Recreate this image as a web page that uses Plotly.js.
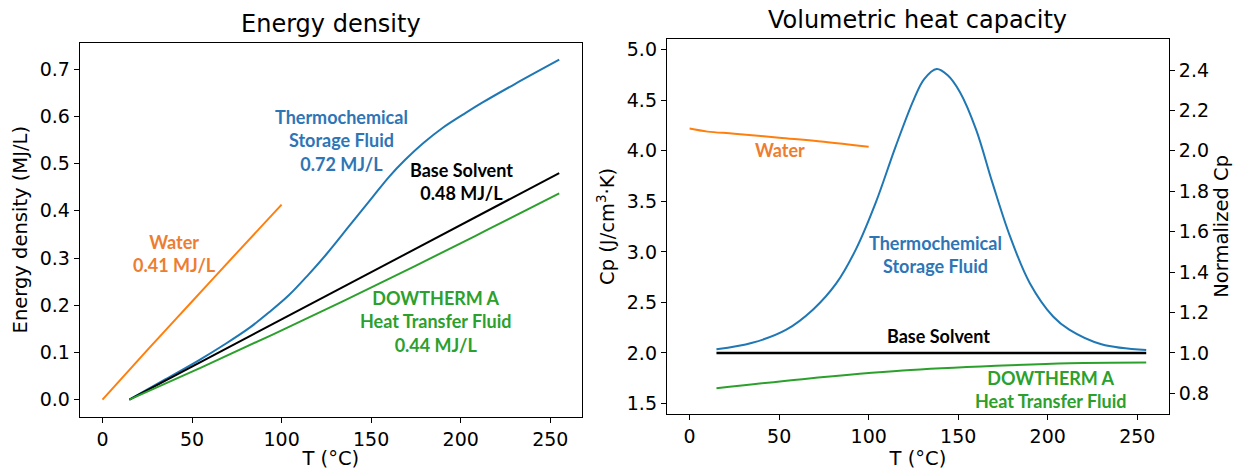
<!DOCTYPE html>
<html>
<head>
<meta charset="utf-8">
<script src="https://cdn.plot.ly/plotly-3.0.1.min.js"></script>
<style>html,body{margin:0;padding:0;background:#fff;}#chart{width:1235px;height:470px;}</style>
</head>
<body>
<div id="chart"></div>
<script>
// ---- Energy density (MJ/L) vs T (°C)
const waterT_E = [0, 25, 50, 75, 100];
const waterE = [0, 0.105, 0.208, 0.311, 0.413];
const tcsT_E = [15, 35, 54, 69, 82, 93, 104, 115, 125, 138, 151, 160, 169, 179, 190, 203, 212, 230, 255];
const tcsE = [0, 0.043, 0.084, 0.119, 0.152, 0.185, 0.221, 0.265, 0.308, 0.369, 0.430, 0.472, 0.508, 0.543, 0.576, 0.608, 0.629, 0.668, 0.72];
const baseT_E = [15, 255];
const baseE = [0, 0.48];
const dowT_E = [15, 55, 95, 135, 175, 215, 255];
const dowE = [0, 0.068, 0.138, 0.210, 0.284, 0.360, 0.437];

// ---- Volumetric heat capacity Cp (J/cm3·K) vs T (°C)
const waterT_C = [0, 10, 25, 50, 75, 100];
const waterCp = [4.22, 4.19, 4.17, 4.13, 4.09, 4.04];
const tcsT_C = [15, 35, 54, 69, 82, 93, 104, 115, 125, 131, 138, 144, 151, 160, 169, 179, 190, 203, 212, 230, 255];
const tcsCp = [2.035, 2.10, 2.23, 2.43, 2.69, 3.03, 3.49, 4.04, 4.50, 4.71, 4.81, 4.75, 4.58, 4.21, 3.69, 3.15, 2.69, 2.36, 2.23, 2.085, 2.028];
const baseT_C = [15, 255];
const baseCp = [2.0, 2.0];
const dowT_C = [15, 63, 119, 175, 212, 255];
const dowCp = [1.65, 1.74, 1.825, 1.875, 1.898, 1.905];

const xTicks = [0, 50, 100, 150, 200, 250];
const C = {blue:'#1f77b4', orange:'#ff7f0e', green:'#2ca02c', black:'#000000'};
const TXT = {blue:'#2e75b6', orange:'#ed7d31', green:'#2ca02c', black:'#000000'};

function line(x, y, color, xa, ya, w) {
  return {x:x, y:y, xaxis:xa, yaxis:ya, type:'scatter', mode:'lines',
    line:{color:color, width:w||2, shape:'spline', smoothing:1}, hoverinfo:'skip', showlegend:false};
}

const traces = [
  line(waterT_E, waterE, C.orange, 'x', 'y'),
  line(tcsT_E, tcsE, C.blue, 'x', 'y'),
  line(baseT_E, baseE, C.black, 'x', 'y'),
  line(dowT_E, dowE, C.green, 'x', 'y'),
  line(waterT_C, waterCp, C.orange, 'x2', 'y2'),
  line(tcsT_C, tcsCp, C.blue, 'x2', 'y2'),
  line(baseT_C, baseCp, C.black, 'x2', 'y2', 2.5),
  line(dowT_C, dowCp, C.green, 'x2', 'y2'),
  // invisible trace so the normalized axis is drawn
  {x:baseT_C, y:baseCp.map(v => v/2), xaxis:'x2', yaxis:'y3', type:'scatter', mode:'lines',
   line:{color:'rgba(0,0,0,0)', width:0}, hoverinfo:'skip', showlegend:false}
];

const tickFont = {family:'DejaVu Sans', size:19, color:'#000'};
const titleFont = {family:'DejaVu Sans', size:19.5, color:'#000'};
const axBase = {showgrid:false, zeroline:false, showline:true, linecolor:'#000', linewidth:1,
  ticks:'outside', ticklen:5, tickwidth:1, tickcolor:'#000', tickfont:tickFont, automargin:false};

const annFont = (c) => ({family:'Lato', size:18, color:c, weight:'bold'});
function ann(text, x, y, xr, yr, c) {
  return {text:'<b>'+text+'</b>', x:x, y:y, xref:xr, yref:yr, showarrow:false,
    font:annFont(c), align:'center', xanchor:'center', yanchor:'middle'};
}

const layout = {
  width:1235, height:470,
  margin:{l:0, r:0, t:0, b:0},
  paper_bgcolor:'#fff', plot_bgcolor:'#fff',
  xaxis: Object.assign({}, axBase, {domain:[0.0645, 0.4713], range:[-12.75, 267.75], tickvals:xTicks,
    mirror:true, anchor:'y', title:{text:'T (°C)', font:titleFont, standoff:2}}),
  yaxis: Object.assign({}, axBase, {domain:[0.1134, 0.9091], range:[-0.036, 0.756], dtick:0.1, tick0:0,
    tickformat:'.1f', mirror:true, anchor:'x', title:{text:'Energy density (MJ/L)', font:titleFont, standoff:6}}),
  xaxis2: Object.assign({}, axBase, {domain:[0.5399, 0.9466], range:[-12.75, 267.75], tickvals:xTicks,
    mirror:true, anchor:'y2', title:{text:'T (°C)', font:titleFont, standoff:2}}),
  yaxis2: Object.assign({}, axBase, {domain:[0.1191, 0.9177], range:[1.395, 5.11], dtick:0.5, tick0:0,
    tickformat:'.1f', anchor:'x2', mirror:true, title:{text:'Cp (J/cm<sup>3</sup>·K)', font:titleFont, standoff:6}}),
  yaxis3: Object.assign({}, axBase, {domain:[0.1191, 0.9177], range:[0.6975, 2.555], dtick:0.2, tick0:0,
    tickformat:'.1f', anchor:'x2', overlaying:'y2', side:'right', title:{text:'Normalized Cp', font:titleFont, standoff:6}}),
  annotations: [
    {text:'Energy density', x:0.268, y:1-24/470, xref:'paper', yref:'paper', showarrow:false,
     font:{family:'DejaVu Sans', size:24, color:'#000'}, xanchor:'center', yanchor:'middle'},
    {text:'Volumetric heat capacity', x:918/1235, y:1-20/470, xref:'paper', yref:'paper', showarrow:false,
     font:{family:'DejaVu Sans', size:24, color:'#000'}, xanchor:'center', yanchor:'middle'},
    ann('Thermochemical<br>Storage Fluid<br>0.72 MJ/L', 133.4, 0.549, 'x', 'y', TXT.blue),
    ann('Base Solvent<br>0.48 MJ/L', 200.4, 0.4615, 'x', 'y', TXT.black),
    ann('Water<br>0.41 MJ/L', 40.1, 0.31, 'x', 'y', TXT.orange),
    ann('DOWTHERM A<br>Heat Transfer Fluid<br>0.44 MJ/L', 186.2, 0.166, 'x', 'y', TXT.green),
    ann('Water', 50.3, 4.01, 'x2', 'y2', TXT.orange),
    ann('Thermochemical<br>Storage Fluid', 137.2, 2.97, 'x2', 'y2', TXT.blue),
    ann('Base Solvent', 139.2, 2.167, 'x2', 'y2', TXT.black),
    ann('DOWTHERM A<br>Heat Transfer Fluid', 201.8, 1.639, 'x2', 'y2', TXT.green)
  ]
};

Plotly.newPlot('chart', traces, layout, {displayModeBar:false, staticPlot:true});
</script>
</body>
</html>
